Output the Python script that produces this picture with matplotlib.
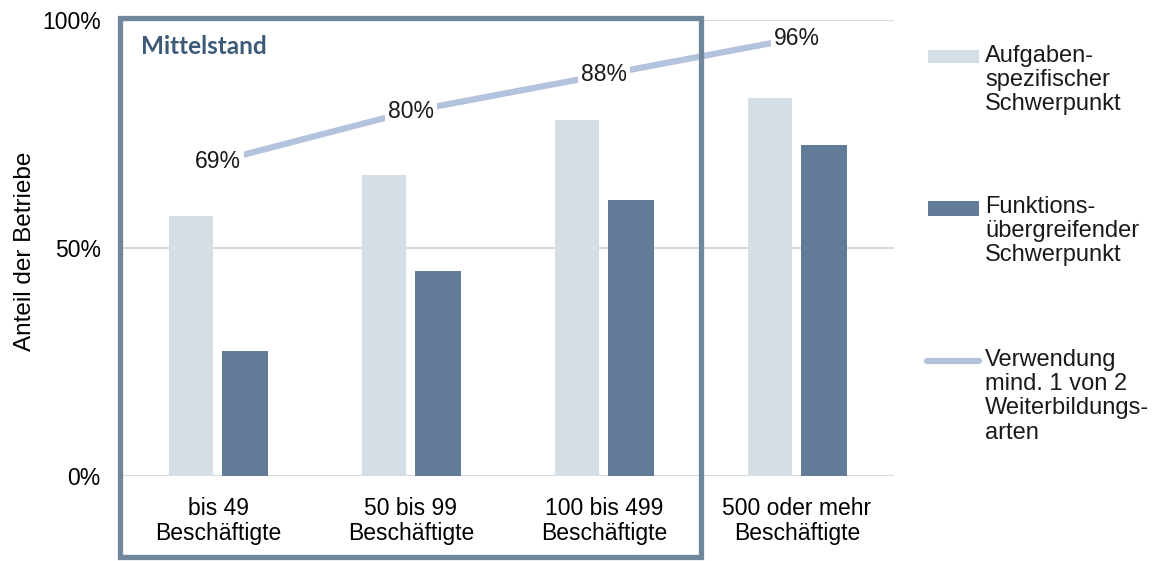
import numpy as np
import matplotlib
matplotlib.use("Agg")
import matplotlib.pyplot as plt
from matplotlib.patches import Rectangle
from matplotlib.lines import Line2D

plt.rcParams["font.family"] = ["Liberation Sans", "DejaVu Sans"]

# Daten: Anteil der Betriebe je Größenklasse
categories = ["bis 49\nBeschäftigte", "50 bis 99\nBeschäftigte",
              "100 bis 499\nBeschäftigte", "500 oder mehr\nBeschäftigte"]
aufgaben = [0.57, 0.66, 0.78, 0.83]
funktion = [0.275, 0.45, 0.605, 0.725]
verwendung = [0.69, 0.80, 0.88, 0.96]

light = "#d5dde5"
dark = "#627b98"
line_col = "#b4c3dd"
box_col = "#71879c"
fs = 16.5

fig = plt.figure(figsize=(11.57, 5.61), dpi=100)
W, H = 1157, 561
ax = fig.add_axes([121.5 / W, 1 - 476 / H, 772 / W, 456 / H])

x = np.arange(len(categories))
ax.bar(x - 0.14, aufgaben, width=0.225, color=light, zorder=2)
ax.bar(x + 0.14, funktion, width=0.235, color=dark, zorder=2)
ax.plot(x, verwendung, color=line_col, lw=4.5, zorder=3, solid_capstyle="butt")
for xi, v in zip(x, verwendung):
    ax.text(xi, v, f"{v * 100:.0f}%", ha="center", va="center", fontsize=fs,
            color="#1a1a1a", zorder=4,
            bbox=dict(boxstyle="square,pad=0.15", fc="white", ec="none"))

ax.set_xlim(-0.5, 3.5)
ax.set_ylim(0, 1)
ax.set_yticks([0, 0.5, 1])
ax.set_yticklabels(["0%", "50%", "100%"], fontsize=fs)
ax.set_xticks(x)
ax.set_xticklabels(categories, fontsize=fs, linespacing=1.1)
ax.tick_params(length=0)
ax.tick_params(axis="x", pad=15)
ax.tick_params(axis="y", pad=15)
ax.yaxis.grid(True, color="#d9d9d9", lw=1.5, zorder=0)
for s in ax.spines.values():
    s.set_visible(False)
ax.set_ylabel("Anteil der Betriebe", fontsize=17.5)
ax.yaxis.set_label_coords(-0.111, 0.493)

# Rahmen für den Mittelstand
fig.patches.append(Rectangle((119.5 / W, 1 - 557 / H), 581 / W, 539 / H,
                             transform=fig.transFigure, fill=False,
                             ec=box_col, lw=3.8, zorder=5))
fig.text(141 / W, 1 - 46 / H, "Mittelstand", fontsize=17.5, fontweight="bold",
         family=["Lato", "DejaVu Sans"], color="#3d5a78", va="center")

# Legende
fig.patches.append(Rectangle((928 / W, 1 - 63 / H), 51 / W, 13 / H,
                             transform=fig.transFigure, fc=light, ec="none"))
fig.patches.append(Rectangle((928 / W, 1 - 216 / H), 51 / W, 15 / H,
                             transform=fig.transFigure, fc=dark, ec="none"))
fig.lines.append(Line2D([927 / W, 979 / W], [1 - 361 / H, 1 - 361 / H],
                        transform=fig.transFigure, color=line_col, lw=4.5,
                        solid_capstyle="round"))
legend_texts = [
    (45, "Aufgaben-\nspezifischer\nSchwerpunkt"),
    (196, "Funktions-\nübergreifender\nSchwerpunkt"),
    (349, "Verwendung\nmind. 1 von 2\nWeiterbildungs-\narten"),
]
for ytop, txt in legend_texts:
    fig.text(985 / W, 1 - ytop / H, txt, fontsize=17, va="top", ha="left",
             color="#1a1a1a", linespacing=1.13)

fig.savefig("out.png", dpi=100)
